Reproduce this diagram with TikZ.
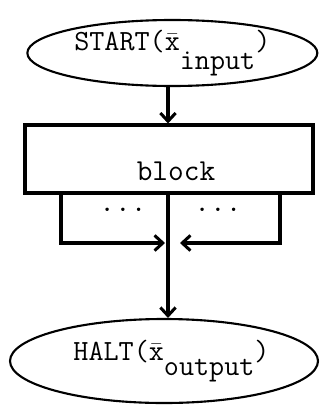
\documentclass[tikz,border=0pt]{standalone}
\usepackage{fontspec}
\setmonofont{Latin Modern Mono}
\usetikzlibrary{arrows.meta,shapes.geometric}

\newcommand{\xvec}{$\bar{\mbox{x}}$}

\begin{document}
\begin{tikzpicture}[
  term/.style={ellipse, draw, line width=1.8pt, minimum width=#1, minimum height=2.2cm,
               inner sep=0pt, font=\ttfamily\fontsize{25}{30}\selectfont},
  term/.default={8.7cm},
  box/.style={rectangle, draw, line width=2.6pt, minimum width=8.64cm, minimum height=2.04cm},
  txt/.style={font=\ttfamily\fontsize{26}{30}\selectfont, inner sep=0pt},
  arr/.style={-{Straight Barb[length=7pt,width=13pt]}, line width=2.6pt}
]
  \useasboundingbox (0,0) rectangle (9.6,-12.18);

  \node[term, minimum height=1.98cm] (start) at (5.17,-1.59) {START(\xvec\raisebox{-0.57cm}{input})};
  \node[box] (block) at (5.07,-4.77) {};
  \node[txt, anchor=base] (blocktxt) at (5.28,-5.4) {block};
  \node[term=9.24cm, minimum height=2.52cm] (halt) at (4.92,-10.83) {\hspace{0.45cm}HALT(\xvec\raisebox{-0.47cm}{output})};

  % Nebenwege unter dem Block
  \coordinate (merge) at (5.04,-7.29);
  \coordinate (lx) at (1.83,-7.29);
  \coordinate (rx) at (8.4,-7.29);
  \node[txt] (ldots) at (3.69,-6.3) {...};
  \node[txt] (rdots) at (6.54,-6.3) {...};

  \draw[arr] (start.south -| merge) -- (merge |- block.north);
  \draw[arr] (lx |- block.south) -- (lx) -- ([xshift=-0.09cm]merge);
  \draw[arr] (rx |- block.south) -- (rx) -- ([xshift=0.36cm]merge);
  \draw[arr] (merge |- block.south) -- (merge |- halt.north);
\end{tikzpicture}
\end{document}
